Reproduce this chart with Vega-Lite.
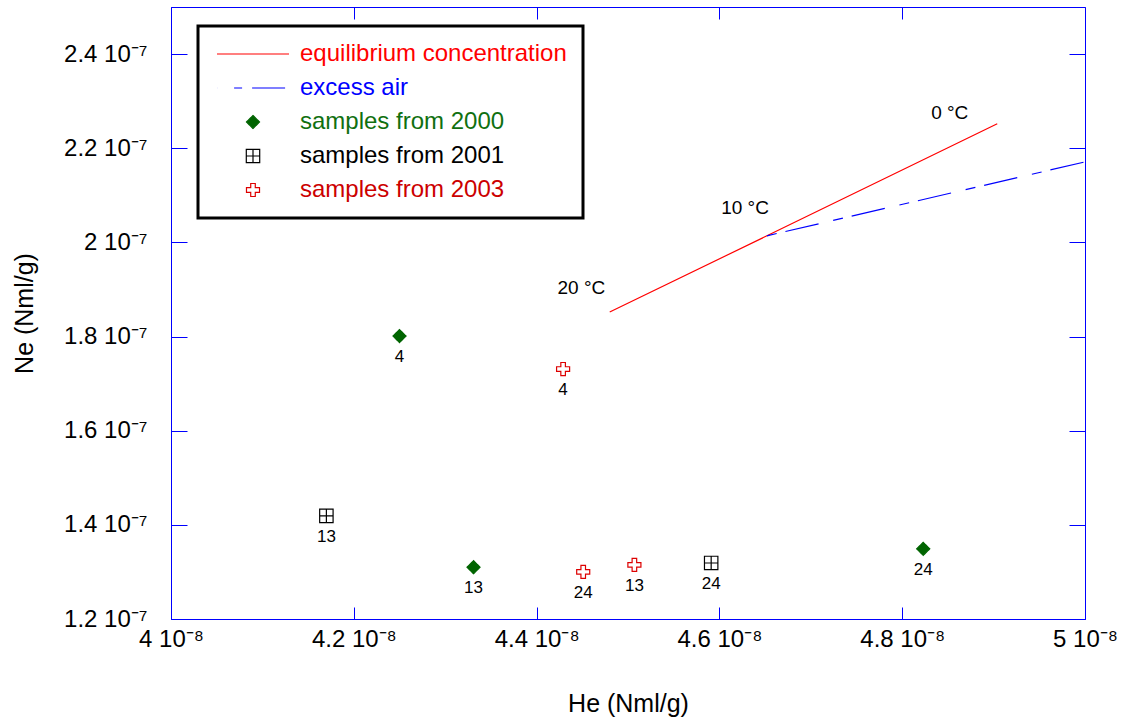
{
  "$schema": "https://vega.github.io/schema/vega-lite/v6.json",
  "width": 914,
  "height": 612,
  "autosize": {"type": "none"},
  "padding": {"left": 171, "top": 7, "right": 41, "bottom": 100},
  "background": "white",
  "config": {
    "font": "Liberation Sans",
    "view": {"stroke": "#0000ff", "strokeWidth": 1},
    "legend": {"strokeColor": "black", "strokeWidth": 3},
    "axis": {
      "grid": false,
      "domainColor": "#0000ff",
      "tickColor": "#0000ff",
      "labelFont": "Liberation Sans",
      "labelFontSize": 24,
      "labelColor": "black",
      "titleFont": "Liberation Sans",
      "titleFontSize": 25,
      "titleFontWeight": "normal",
      "titleColor": "black",
      "labelFlush": false,
      "labelOverlap": false
    }
  },
  "datasets": {
    "eq": [
      {"he": 4.48e-8, "ne": 1.852e-7},
      {"he": 4.652e-8, "ne": 2.014e-7},
      {"he": 4.904e-8, "ne": 2.252e-7}
    ],
    "ea": [
      {"he": 4.652e-8, "ne": 2.014e-7},
      {"he": 5.0e-8, "ne": 2.171e-7}
    ],
    "samples": [
      {"he": 4.25e-8, "ne": 1.801e-7, "series": "samples from 2000", "label": "4"},
      {"he": 4.331e-8, "ne": 1.31e-7, "series": "samples from 2000", "label": "13"},
      {"he": 4.823e-8, "ne": 1.349e-7, "series": "samples from 2000", "label": "24"},
      {"he": 4.17e-8, "ne": 1.419e-7, "series": "samples from 2001", "label": "13"},
      {"he": 4.591e-8, "ne": 1.319e-7, "series": "samples from 2001", "label": "24"},
      {"he": 4.429e-8, "ne": 1.731e-7, "series": "samples from 2003", "label": "4"},
      {"he": 4.451e-8, "ne": 1.3e-7, "series": "samples from 2003", "label": "24"},
      {"he": 4.507e-8, "ne": 1.315e-7, "series": "samples from 2003", "label": "13"}
    ],
    "temps": [
      {"he": 4.852e-8, "ne": 2.275e-7, "t": "0 °C"},
      {"he": 4.628e-8, "ne": 2.073e-7, "t": "10 °C"},
      {"he": 4.449e-8, "ne": 1.903e-7, "t": "20 °C"}
    ]
  },
  "resolve": {"axis": {"x": "independent", "y": "independent"}},
  "layer": [
    {
      "data": {"name": "eq"},
      "mark": {"type": "line", "stroke": "#ff0000", "strokeWidth": 1.2},
      "encoding": {
        "x": {
          "field": "he", "type": "quantitative",
          "scale": {"domain": [4e-8, 5e-8], "nice": false, "zero": false},
          "axis": {
            "orient": "bottom",
            "values": [4e-8, 4.2e-8, 4.4e-8, 4.6e-8, 4.8e-8, 5e-8],
            "labelExpr": "format(datum.value*1e8, '.1~f') + ' 10⁻⁸'",
            "tickSize": -12,
            "labelPadding": 20,
            "title": "He (Nml/g)",
            "titlePadding": 40
          }
        },
        "y": {
          "field": "ne", "type": "quantitative",
          "scale": {"domain": [1.2e-7, 2.5e-7], "nice": false, "zero": false},
          "axis": {
            "orient": "left",
            "values": [1.2e-7, 1.4e-7, 1.6e-7, 1.8e-7, 2.0e-7, 2.2e-7, 2.4e-7],
            "labelExpr": "format(datum.value*1e7, '.1~f') + ' 10⁻⁷'",
            "tickSize": -16,
            "labelPadding": 40,
            "title": "Ne (Nml/g)",
            "titlePadding": 26
          }
        }
      }
    },
    {
      "data": {"name": "ea"},
      "mark": {"type": "line", "stroke": "#0000ff", "strokeWidth": 1.2, "strokeDash": [10, 9, 34, 15]},
      "encoding": {
        "x": {"field": "he", "type": "quantitative", "axis": null},
        "y": {"field": "ne", "type": "quantitative", "axis": null}
      }
    },
    {
      "data": {"name": "samples"},
      "mark": {"type": "point", "strokeWidth": 1.2, "opacity": 1},
      "encoding": {
        "x": {
          "field": "he", "type": "quantitative",
          "axis": {"orient": "top", "labels": false, "title": null, "tickSize": -12, "domain": false,
                   "values": [4e-8, 4.2e-8, 4.4e-8, 4.6e-8, 4.8e-8, 5e-8]}
        },
        "y": {
          "field": "ne", "type": "quantitative",
          "axis": {"orient": "right", "labels": false, "title": null, "tickSize": -16, "domain": false,
                   "values": [1.2e-7, 1.4e-7, 1.6e-7, 1.8e-7, 2.0e-7, 2.2e-7, 2.4e-7]}
        },
        "shape": {
          "field": "series", "type": "nominal",
          "scale": {
            "domain": ["equilibrium concentration", "excess air", "samples from 2000", "samples from 2001", "samples from 2003"],
            "range": ["M-3.6,0H3.6", "M-3.6,0H3.6", "diamond", "M-1,-1H1V1H-1Z M0,-1V1 M-1,0H1", "M-0.35,-1H0.35V-0.35H1V0.35H0.35V1H-0.35V0.35H-1V-0.35H-0.35Z"]
          },
          "legend": {
            "title": null,
            "orient": "none",
            "legendX": 27,
            "legendY": 19,
            "padding": 16,
            "strokeColor": "black",
            "fillColor": "white",
            "labelFont": "Liberation Sans",
            "labelFontSize": 24,
            "labelOffset": 35,
            "symbolOffset": 27,
            "rowPadding": 10,
            "labelLimit": 0,
            "symbolStrokeWidth": 1.2,
            "labelColor": {"expr": "datum.value == 'equilibrium concentration' ? '#ff0000' : datum.value == 'excess air' ? '#0000ff' : datum.value == 'samples from 2000' ? '#107010' : datum.value == 'samples from 2003' ? '#cc0000' : '#000000'"}
          }
        },
        "fill": {
          "field": "series", "type": "nominal",
          "scale": {
            "domain": ["equilibrium concentration", "excess air", "samples from 2000", "samples from 2001", "samples from 2003"],
            "range": ["transparent", "transparent", "#006400", "transparent", "transparent"]
          }
        },
        "stroke": {
          "field": "series", "type": "nominal",
          "scale": {
            "domain": ["equilibrium concentration", "excess air", "samples from 2000", "samples from 2001", "samples from 2003"],
            "range": ["#ff0000", "#0000ff", "#006400", "#000000", "#dd0000"]
          }
        },
        "size": {
          "field": "series", "type": "nominal",
          "scale": {
            "type": "ordinal",
            "domain": ["equilibrium concentration", "excess air", "samples from 2000", "samples from 2001", "samples from 2003"],
            "range": [400, 400, 170, 180, 170]
          }
        },
        "strokeDash": {
          "field": "series", "type": "nominal",
          "scale": {
            "domain": ["equilibrium concentration", "excess air", "samples from 2000", "samples from 2001", "samples from 2003"],
            "range": [[1, 0], [0.1, 17, 8, 10, 33, 15], [1, 0], [1, 0], [1, 0]]
          }
        }
      }
    },
    {
      "data": {"name": "samples"},
      "mark": {"type": "text", "dy": 21, "fontSize": 17, "color": "black", "font": "Liberation Sans"},
      "encoding": {
        "x": {"field": "he", "type": "quantitative", "axis": null},
        "y": {"field": "ne", "type": "quantitative", "axis": null},
        "text": {"field": "label"}
      }
    },
    {
      "data": {"name": "temps"},
      "mark": {"type": "text", "fontSize": 19, "color": "black", "font": "Liberation Sans"},
      "encoding": {
        "x": {"field": "he", "type": "quantitative", "axis": null},
        "y": {"field": "ne", "type": "quantitative", "axis": null},
        "text": {"field": "t"}
      }
    }
  ]
}
